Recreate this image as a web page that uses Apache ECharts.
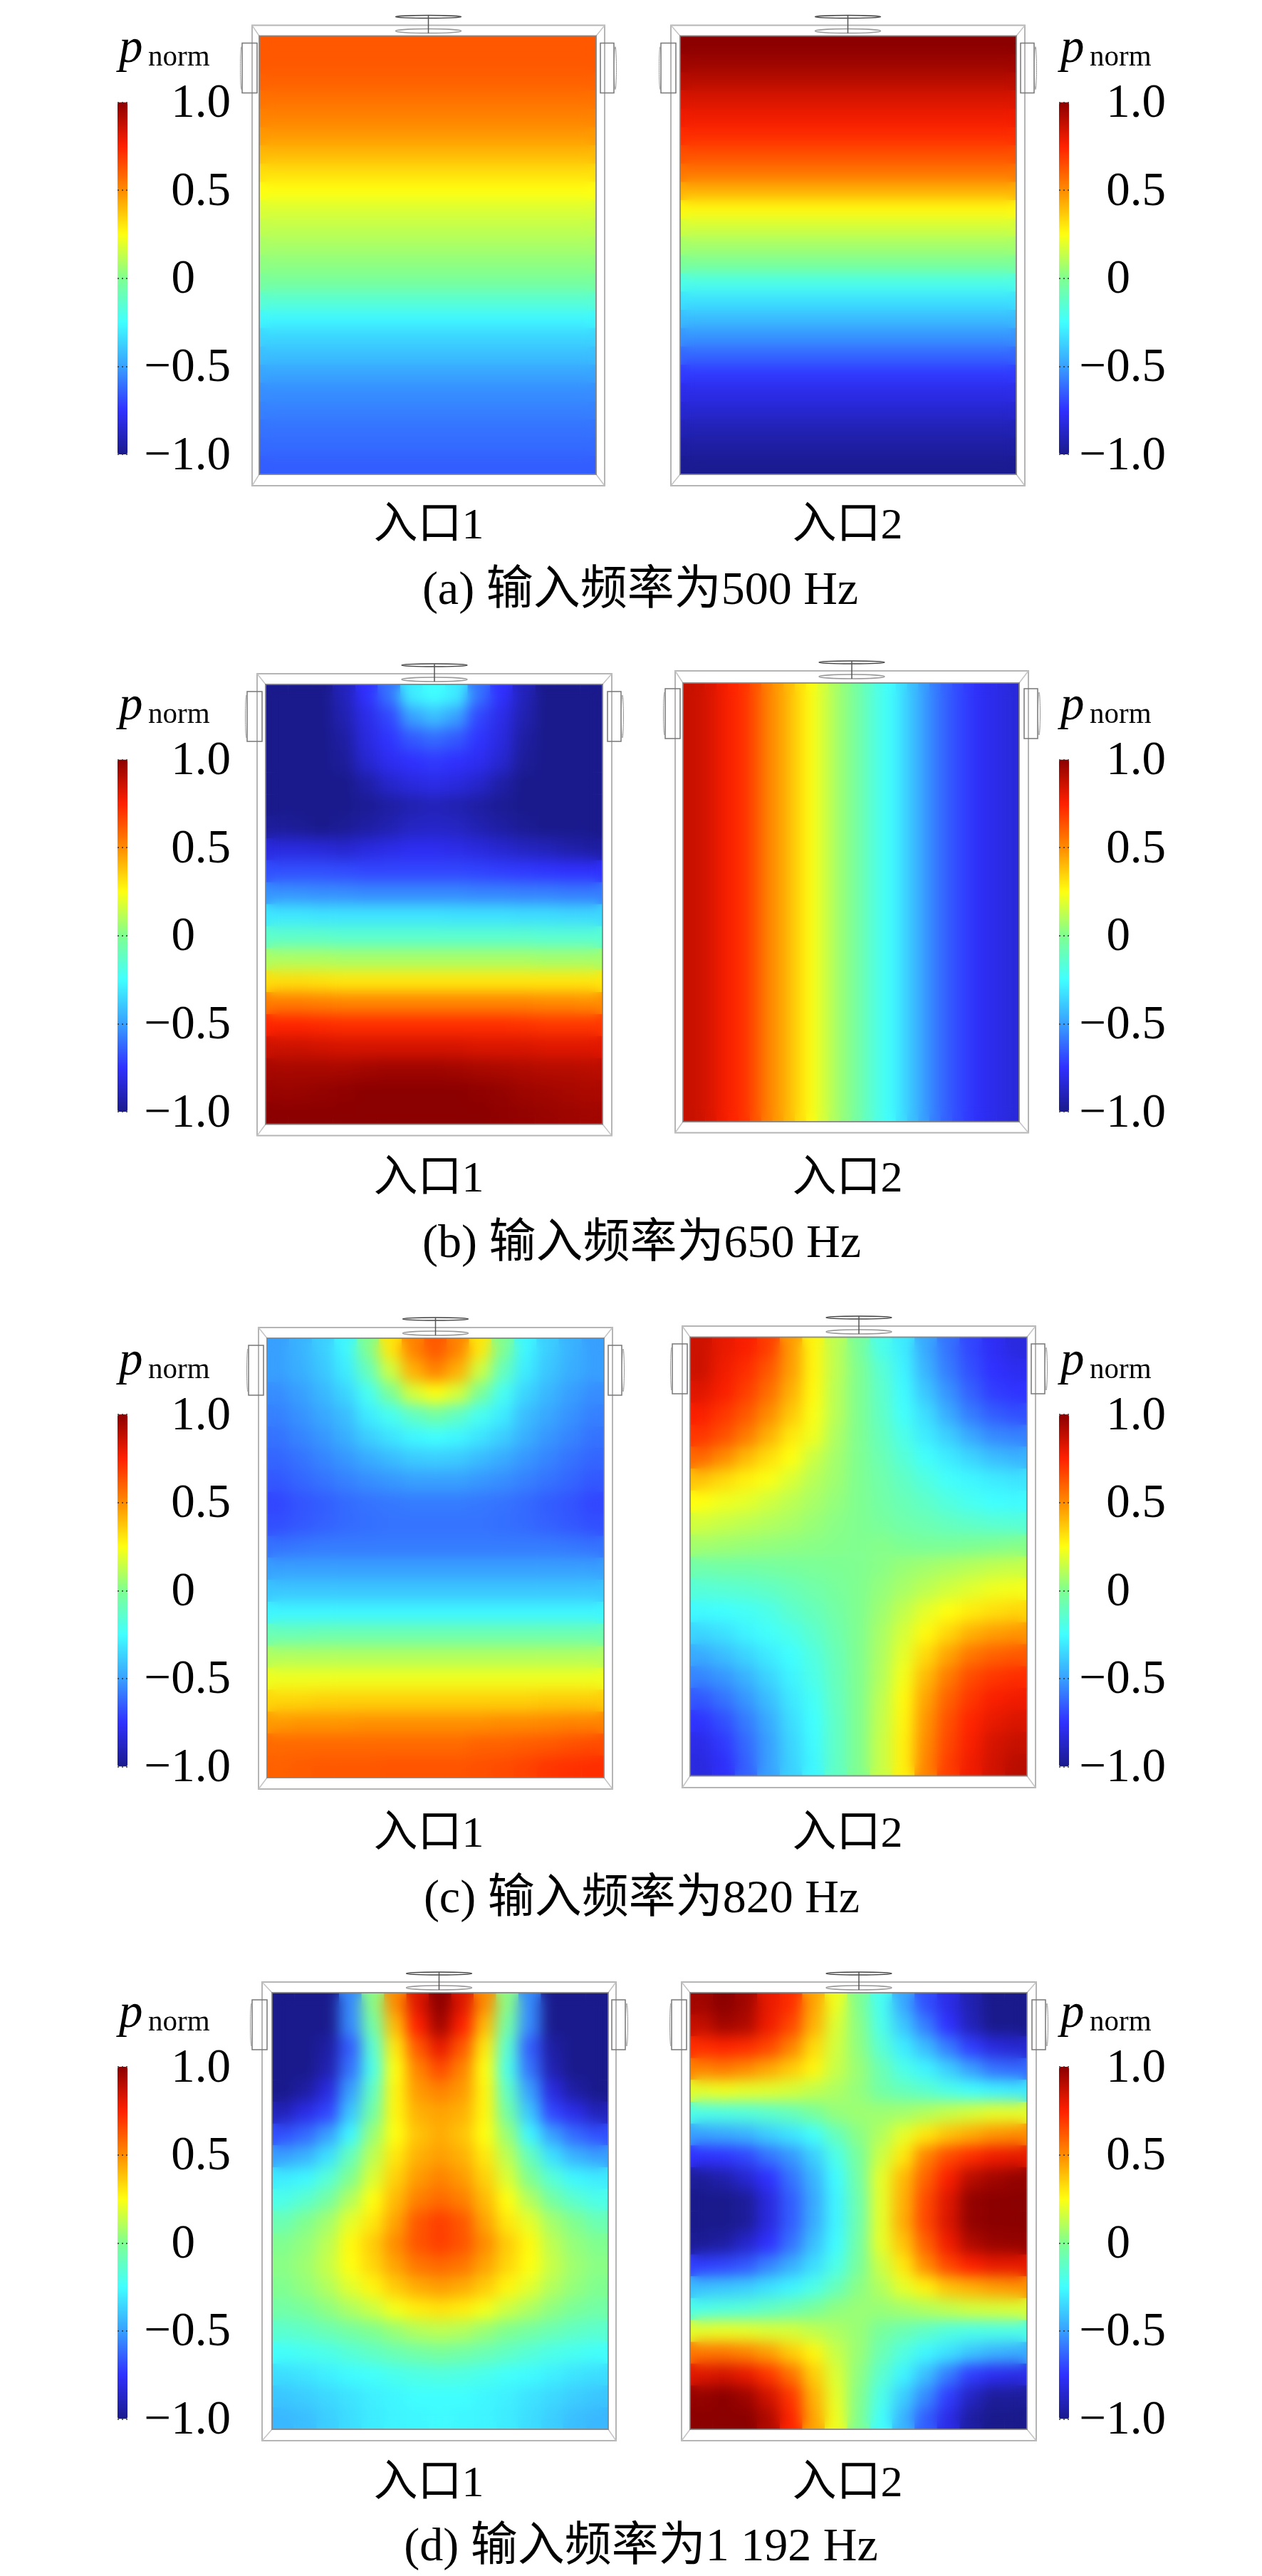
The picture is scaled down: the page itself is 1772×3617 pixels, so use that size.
<!DOCTYPE html>
<html><head><meta charset="utf-8">
<script src="https://cdn.jsdelivr.net/npm/echarts@6/dist/echarts.min.js"></script>
<style>html,body{margin:0;padding:0;background:#fff;overflow:hidden}#c{width:1772px;height:3617px}</style>
</head><body><div id="c"></div>
<script>
// ---- values (rows top to bottom, columns left to right) ----
const captions = ['(a) 输入频率为500 Hz','(b) 输入频率为650 Hz','(c) 输入频率为820 Hz','(d) 输入频率为1 192 Hz'];
const inletNames = ['入口1','入口2'];
const colorTicks = [-1,-0.5,0,0.5,1];
const tickLabels = ['−1.0','−0.5','0','0.5','1.0'];
const jetColors = ['#1a1a8c','#3030ff','#38a0ff','#40ffff','#80ff90','#ffff10','#ff8c00','#ff2000','#8b0000'];

const a1Rows = [.62,.62,.60,.56,.52,.47,.40,.32,.25,.18,.13,.08,.03,-.03,-.15,-.27,-.36,-.42,-.49,-.54,-.57,-.60,-.62,-.65];
const a2Rows = [1,.96,.90,.83,.78,.72,.64,.55,.42,.26,.16,.07,-.02,-.2,-.33,-.43,-.53,-.63,-.73,-.8,-.85,-.91,-.95,-.99];
const b2Cols = [.87,.86,.83,.78,.74,.71,.63,.53,.47,.4,.32,.25,.17,.09,.03,-.04,-.12,-.2,-.25,-.33,-.42,-.5,-.58,-.64,-.69,-.73,-.77,-.79,-.81,-.83];
const b1Grid = [
[-1,-1,-1,-.9,-.75,-.6,-.3,-.25,-.3,-.6,-.75,-.9,-1,-1,-1],
[-1,-1,-1,-.92,-.8,-.7,-.5,-.42,-.5,-.7,-.8,-.92,-1,-1,-1],
[-1,-1,-1,-.95,-.82,-.74,-.66,-.62,-.66,-.74,-.82,-.95,-1,-1,-1],
[-1,-1,-1,-.97,-.85,-.78,-.75,-.73,-.75,-.78,-.85,-.97,-1,-1,-1],
[-1,-1,-1,-1,-.94,-.86,-.82,-.8,-.82,-.86,-.94,-1,-1,-1,-1],
[-1,-1,-1,-1,-.98,-.95,-.92,-.9,-.92,-.95,-.98,-1,-1,-1,-1],
[-.97,-.98,-1,-.98,-.95,-.92,-.88,-.87,-.88,-.92,-.95,-.98,-1,-1,-1],
[-.82,-.82,-.83,-.85,-.82,-.8,-.78,-.78,-.8,-.82,-.85,-.88,-.9,-.93,-.95],
[-.68,-.68,-.68,-.69,-.7,-.7,-.7,-.7,-.7,-.71,-.72,-.73,-.74,-.75,-.75],
[-.53,-.53,-.54,-.54,-.55,-.55,-.55,-.55,-.55,-.56,-.56,-.57,-.57,-.58,-.58],
[-.31,-.31,-.32,-.32,-.32,-.32,-.32,-.32,-.33,-.33,-.33,-.34,-.34,-.35,-.35],
[-.13,-.13,-.13,-.14,-.14,-.14,-.14,-.14,-.14,-.14,-.14,-.14,-.15,-.15,-.15],
[.09,.09,.09,.08,.08,.08,.08,.08,.08,.08,.08,.08,.07,.07,.07],
[.32,.32,.31,.3,.3,.3,.3,.3,.3,.3,.3,.3,.3,.3,.3],
[.54,.54,.53,.52,.52,.52,.52,.52,.52,.52,.52,.52,.51,.51,.5],
[.74,.74,.73,.72,.72,.72,.72,.72,.72,.72,.72,.71,.7,.7,.7],
[.86,.86,.85,.84,.84,.84,.84,.84,.84,.83,.83,.83,.82,.82,.82],
[.94,.94,.94,.94,.95,.96,.96,.96,.95,.94,.93,.92,.91,.91,.9],
[.97,.97,.98,.99,1,1,1,1,1,.99,.98,.96,.95,.94,.93],
[1,1,1,1,1,1,1,1,1,1,.99,.98,.97,.96,.95]];
const c1Grid = [
[-.5,-.45,-.38,-.27,0,.3,.52,.62,.52,.3,0,-.27,-.38,-.45,-.5],
[-.5,-.46,-.4,-.3,-.1,.15,.42,.52,.42,.15,-.1,-.3,-.4,-.46,-.5],
[-.54,-.5,-.44,-.36,-.22,-.02,.17,.25,.17,-.02,-.22,-.36,-.44,-.5,-.54],
[-.57,-.53,-.48,-.42,-.3,-.22,-.12,-.05,-.12,-.22,-.3,-.42,-.48,-.53,-.57],
[-.6,-.56,-.52,-.46,-.38,-.32,-.27,-.25,-.27,-.32,-.38,-.46,-.52,-.56,-.6],
[-.63,-.6,-.56,-.52,-.47,-.43,-.39,-.38,-.39,-.43,-.47,-.52,-.56,-.6,-.63],
[-.66,-.63,-.6,-.57,-.54,-.52,-.5,-.5,-.5,-.52,-.54,-.57,-.6,-.63,-.66],
[-.7,-.67,-.65,-.62,-.6,-.59,-.58,-.58,-.58,-.59,-.6,-.62,-.65,-.67,-.7],
[-.68,-.66,-.64,-.62,-.61,-.6,-.6,-.6,-.6,-.6,-.61,-.62,-.64,-.66,-.68],
[-.6,-.59,-.58,-.58,-.58,-.58,-.58,-.58,-.58,-.58,-.58,-.58,-.58,-.59,-.6],
[-.5,-.5,-.5,-.5,-.5,-.5,-.5,-.5,-.5,-.5,-.5,-.5,-.5,-.5,-.5],
[-.4,-.4,-.4,-.4,-.4,-.4,-.4,-.4,-.4,-.4,-.4,-.4,-.4,-.4,-.4],
[-.27,-.27,-.27,-.27,-.27,-.27,-.27,-.27,-.27,-.27,-.27,-.27,-.27,-.27,-.27],
[-.08,-.08,-.07,-.07,-.07,-.07,-.07,-.07,-.07,-.07,-.07,-.07,-.07,-.07,-.07],
[.1,.1,.1,.1,.1,.1,.1,.1,.1,.1,.1,.1,.1,.1,.1],
[.22,.22,.22,.22,.22,.22,.22,.22,.22,.22,.22,.22,.22,.22,.22],
[.34,.34,.35,.35,.35,.35,.35,.35,.35,.35,.35,.35,.36,.36,.36],
[.47,.48,.48,.48,.49,.49,.49,.49,.49,.49,.5,.5,.51,.52,.52],
[.58,.58,.58,.58,.58,.58,.58,.58,.58,.6,.6,.61,.62,.64,.65],
[.6,.61,.62,.62,.62,.63,.63,.63,.63,.64,.65,.67,.7,.71,.72]];
const c2Grid = [
[.86,.8,.76,.68,.47,.27,.12,-.02,-.2,-.3,-.48,-.6,-.7,-.77,-.82],
[.86,.78,.72,.62,.46,.27,.12,0,-.15,-.28,-.45,-.58,-.68,-.75,-.78],
[.82,.76,.68,.57,.42,.26,.11,0,-.13,-.26,-.4,-.53,-.64,-.72,-.74],
[.76,.7,.62,.5,.37,.24,.11,0,-.12,-.24,-.34,-.47,-.58,-.65,-.68],
[.7,.64,.54,.42,.3,.22,.09,0,-.1,-.2,-.3,-.38,-.48,-.55,-.57],
[.58,.5,.4,.32,.25,.15,.07,0,-.08,-.16,-.24,-.3,-.36,-.42,-.45],
[.38,.33,.28,.24,.18,.11,.06,0,-.06,-.12,-.18,-.24,-.27,-.3,-.32],
[.25,.22,.2,.16,.12,.08,.04,0,-.05,-.09,-.13,-.18,-.22,-.25,-.26],
[.16,.14,.12,.1,.08,.05,.02,0,-.03,-.06,-.08,-.11,-.13,-.15,-.16],
[.07,.06,.05,.04,.03,.02,.01,0,.01,-.01,-.02,-.02,-.01,0,.01],
[-.06,-.05,-.05,-.04,-.03,-.02,-.01,0,.02,.05,.07,.09,.11,.13,.14],
[-.16,-.15,-.14,-.12,-.09,-.06,-.03,0,.04,.08,.12,.16,.19,.22,.23],
[-.26,-.25,-.23,-.2,-.14,-.1,-.05,0,.06,.13,.2,.25,.29,.32,.34],
[-.36,-.33,-.28,-.24,-.2,-.14,-.07,0,.08,.17,.26,.34,.42,.46,.48],
[-.47,-.42,-.36,-.3,-.25,-.18,-.09,0,.09,.2,.33,.45,.55,.6,.62],
[-.56,-.52,-.45,-.36,-.28,-.2,-.1,0,.1,.23,.4,.54,.65,.7,.72],
[-.66,-.6,-.52,-.42,-.31,-.23,-.11,0,.12,.26,.45,.6,.7,.76,.78],
[-.74,-.68,-.58,-.47,-.34,-.25,-.12,0,.13,.27,.48,.64,.74,.8,.83],
[-.8,-.73,-.62,-.5,-.36,-.26,-.12,0,.14,.28,.5,.66,.76,.84,.87],
[-.82,-.76,-.64,-.5,-.37,-.27,-.12,0,.14,.28,.52,.68,.78,.85,.9]];
const d1Grid = [
[-1,-1,-1,-.55,.02,.5,.82,1,.82,.5,.02,-.55,-1,-1,-1],
[-1,-1,-1,-.55,-.05,.4,.75,.95,.75,.4,-.05,-.55,-1,-1,-1],
[-1,-1,-.95,-.65,-.15,.3,.62,.8,.62,.3,-.15,-.65,-.95,-1,-1],
[-1,-1,-.92,-.6,-.2,.25,.52,.65,.52,.25,-.2,-.6,-.92,-1,-1],
[-1,-.95,-.82,-.5,-.12,.27,.47,.52,.47,.27,-.12,-.5,-.82,-.95,-1],
[-.9,-.8,-.7,-.4,-.05,.27,.42,.45,.42,.27,-.05,-.4,-.7,-.8,-.9],
[-.68,-.62,-.5,-.27,.05,.25,.38,.43,.38,.25,.05,-.27,-.5,-.62,-.68],
[-.5,-.45,-.33,-.1,.12,.3,.42,.46,.42,.3,.12,-.1,-.33,-.45,-.5],
[-.3,-.27,-.16,0,.18,.35,.47,.52,.47,.35,.18,0,-.16,-.27,-.3],
[-.2,-.14,-.04,.1,.25,.4,.53,.58,.53,.4,.25,.1,-.04,-.14,-.2],
[-.08,0,.07,.2,.3,.45,.62,.68,.62,.45,.3,.2,.07,0,-.08],
[0,.04,.12,.26,.36,.5,.63,.68,.63,.5,.36,.26,.12,.04,0],
[.02,.06,.14,.25,.34,.45,.55,.58,.55,.45,.34,.25,.14,.06,.02],
[0,.04,.1,.19,.27,.36,.43,.46,.43,.36,.27,.19,.1,.04,0],
[-.05,-.02,.03,.09,.15,.23,.29,.31,.29,.23,.15,.09,.03,-.02,-.05],
[-.14,-.12,-.08,-.04,0,.05,.1,.12,.1,.05,0,-.04,-.08,-.12,-.14],
[-.24,-.22,-.2,-.16,-.12,-.08,-.05,-.03,-.05,-.08,-.12,-.16,-.2,-.22,-.24],
[-.34,-.32,-.29,-.26,-.24,-.21,-.19,-.18,-.19,-.21,-.24,-.26,-.29,-.32,-.34],
[-.4,-.38,-.35,-.32,-.29,-.27,-.25,-.25,-.25,-.27,-.29,-.32,-.35,-.38,-.4],
[-.44,-.42,-.38,-.34,-.3,-.28,-.27,-.26,-.27,-.28,-.3,-.34,-.38,-.42,-.44]];
const d2Grid = [
[.95,1,.95,.8,.72,.45,.22,0,-.22,-.48,-.68,-.8,-.92,-1,-1],
[.88,.95,.92,.78,.66,.42,.18,.02,-.2,-.4,-.58,-.75,-.9,-1,-1],
[.72,.74,.72,.66,.52,.33,.16,.03,-.15,-.3,-.43,-.58,-.72,-.82,-.85],
[.52,.54,.5,.44,.36,.27,.14,.05,-.08,-.2,-.28,-.38,-.5,-.6,-.62],
[.2,.22,.2,.19,.17,.13,.09,.04,-.05,-.1,-.14,-.2,-.24,-.28,-.3],
[-.2,-.19,-.17,-.14,-.1,-.03,.04,.06,.06,.07,.1,.14,.17,.2,.2],
[-.5,-.48,-.45,-.38,-.32,-.24,-.1,.02,.1,.2,.3,.38,.43,.48,.5],
[-.75,-.74,-.7,-.6,-.52,-.38,-.2,-.03,.15,.3,.52,.65,.72,.78,.8],
[-.97,-.93,-.85,-.75,-.6,-.45,-.26,-.05,.2,.4,.6,.76,.9,.95,.98],
[-1,-1,-.97,-.82,-.65,-.48,-.28,-.07,.2,.42,.65,.82,.98,1,1],
[-1,-1,-.97,-.82,-.65,-.47,-.28,-.07,.2,.43,.66,.83,.98,1,1],
[-.98,-.95,-.86,-.75,-.6,-.42,-.26,-.05,.2,.38,.6,.78,.92,.97,.98],
[-.72,-.7,-.66,-.56,-.46,-.34,-.2,-.03,.15,.3,.5,.66,.75,.8,.8],
[-.42,-.4,-.38,-.33,-.28,-.2,-.1,.02,.1,.2,.28,.38,.42,.46,.48],
[-.2,-.18,-.16,-.12,-.08,-.03,.03,.05,.05,.07,.1,.13,.16,.17,.18],
[.2,.21,.2,.18,.17,.13,.09,.05,-.03,-.08,-.13,-.18,-.2,-.2,-.2],
[.55,.55,.52,.46,.36,.27,.14,.05,-.08,-.18,-.27,-.33,-.4,-.45,-.47],
[.82,.84,.8,.7,.56,.36,.18,.03,-.14,-.28,-.42,-.58,-.72,-.78,-.8],
[.98,1,.96,.85,.7,.42,.2,.01,-.2,-.38,-.55,-.72,-.88,-.97,-.97],
[1,1,1,.92,.74,.45,.22,0,-.24,-.45,-.65,-.8,-.95,-1,-1]];

// ---- layout ----
const F = '"Liberation Serif","Noto Sans CJK SC",serif';
const panels = [
 {g:a1Rows.map(v=>[v]), heat:[364,837,50.5,666], frame:[354,849,35.6,682], side:0, row:0},
 {g:a2Rows.map(v=>[v]), heat:[955,1427,50.5,666], frame:[942,1439,35.6,682], side:1, row:0},
 {g:b1Grid, heat:[373,846,961,1578.5], frame:[361,859,946,1594.6], side:0, row:1},
 {g:[b2Cols], heat:[959,1431,959,1575], frame:[948,1444,942,1590.5], side:1, row:1},
 {g:c1Grid, heat:[375,848,1879,2496], frame:[363,860,1864,2512], side:0, row:2},
 {g:c2Grid, heat:[969,1442,1877.5,2493.5], frame:[958,1454,1862,2510], side:1, row:2},
 {g:d1Grid, heat:[382,854,2798,3411], frame:[368,865,2783,3427], side:0, row:3},
 {g:d2Grid, heat:[969,1442,2798,3411], frame:[957,1455,2783,3427], side:1, row:3}
];
const rowsLayout = [
 {off:0, label:745, cap:834, capX:899},
 {off:923, label:1662, cap:1751, capX:901},
 {off:1842.5, label:2582, cap:2671, capX:901},
 {off:2758.5, label:3494, cap:3581, capX:900}
];
const barX = [165,1487], barW = 14, barTop = 143.5, barH = 494.5;
const labelMargin = [145,136];
const labelCX = [602,1190];
const pX = [167,1489], normX = [208,1530];

const grid=[],xAxis=[],yAxis=[],series=[],under=[],visualMap=[],title=[],graphic=[];
const line=(x1,y1,x2,y2,stroke,lw,z)=>({type:'line',silent:true,zlevel:z||0,shape:{x1,y1,x2,y2},style:{stroke,lineWidth:lw}});

panels.forEach((p,i)=>{
  const [l,r,t,b]=p.heat;
  grid.push({left:l,top:t,width:r-l,height:b-t,containLabel:false,show:false});
  xAxis.push({type:'category',gridIndex:i,show:false,data:p.g[0].map((_,k)=>k)});
  yAxis.push({type:'category',gridIndex:i,show:false,inverse:true,data:p.g.map((_,k)=>k)});
  const data=[]; p.g.forEach((row,y)=>row.forEach((v,x)=>data.push([x,y,v])));
  const base={type:'heatmap',xAxisIndex:i,yAxisIndex:i,data,silent:true,progressive:0,animation:false,emphasis:{disabled:true},itemStyle:{borderWidth:0}};
  series.push(Object.assign({name:captions[p.row]+' '+inletNames[p.side],zlevel:1},base));
  under.push(Object.assign({name:'base'+i,zlevel:0},base));
  visualMap.push({type:'continuous',min:-1,max:1,seriesIndex:[i,i+8],left:barX[p.side],top:barTop+rowsLayout[p.row].off,
    itemWidth:barW,itemHeight:barH,padding:0,text:['',''],calculable:false,hoverLink:false,realtime:false,
    inRange:{color:jetColors},textStyle:{fontSize:0},showLabel:false});
});
panels.forEach((p,i)=>{
  const k=i+panels.length, top=barTop+rowsLayout[p.row].off;
  grid.push({left:barX[p.side],top:top,width:barW,height:barH,show:false});
  xAxis.push({type:'category',gridIndex:k,show:false,data:['']});
  yAxis.push({type:'value',gridIndex:k,position:'right',min:-1,max:1,interval:.5,z:10,
    axisLine:{show:false},splitLine:{show:false},
    axisTick:{show:true,inside:true,length:barW,lineStyle:{color:'#333',type:[2,4],width:1.5}},
    axisLabel:{show:true,margin:labelMargin[p.side],align:'right',color:'#000',fontFamily:F,fontSize:67,padding:[6,0,0,0],
      formatter:v=>{const s=tickLabels[colorTicks.indexOf(v)];return s==='0'?'{z|0}':s;},
      rich:{z:{padding:[0,50,0,0],fontFamily:F,fontSize:67,color:'#000'}}}});
});

panels.forEach(p=>{
  const [l,r,t,b]=p.heat,[fl,fr,ft,fb]=p.frame,cx=(fl+fr)/2;
  // inlet label
  title.push({text:inletNames[p.side],left:labelCX[p.side],top:rowsLayout[p.row].label-36,textAlign:'center',padding:0,
    textStyle:{fontFamily:F,fontSize:62,fontWeight:'normal',color:'#000'}});
  // enclosure frame
  graphic.push({type:'rect',silent:true,shape:{x:fl,y:ft,width:fr-fl,height:fb-ft},style:{fill:'none',stroke:'#b5b5b5',lineWidth:2}});
  graphic.push(line(fl,ft,l,t,'#c4c4c4',1.5),line(fr,ft,r,t,'#c4c4c4',1.5),line(fl,fb,l,b,'#c4c4c4',1.5),line(fr,fb,r,b,'#c4c4c4',1.5));
  graphic.push({type:'rect',silent:true,zlevel:2,shape:{x:l,y:t,width:r-l,height:b-t},style:{fill:'none',stroke:'rgba(130,130,130,0.85)',lineWidth:2}});
  // top port
  graphic.push({type:'ellipse',silent:true,shape:{cx,cy:ft-12,rx:46,ry:2},style:{fill:'none',stroke:'#444',lineWidth:1.5}});
  graphic.push({type:'ellipse',silent:true,shape:{cx,cy:ft+8,rx:46,ry:3},style:{fill:'none',stroke:'#999',lineWidth:1.5}});
  graphic.push(line(cx,ft-14,cx,ft+11,'#555',1.5));
  // side ports
  [[fl-14,fl+7,fl-15],[fr-6,fr+13,fr+15]].forEach(([a,c,e])=>{
    graphic.push({type:'rect',silent:true,shape:{x:a,y:ft+25,width:c-a,height:70},style:{fill:'none',stroke:'#777',lineWidth:1.5}});
    graphic.push({type:'ellipse',silent:true,shape:{cx:e,cy:ft+60,rx:1.5,ry:30},style:{fill:'none',stroke:'#999',lineWidth:1}});
  });
});
rowsLayout.forEach((r,i)=>{
  title.push({text:captions[i],left:r.capX,top:r.cap-36,textAlign:'center',padding:0,
    textStyle:{fontFamily:F,fontSize:66,fontWeight:'normal',color:'#000'}});
  [0,1].forEach(s=>{
    title.push({text:'p',left:pX[s],top:r.off+36,padding:0,textStyle:{fontFamily:'"Liberation Serif"',fontStyle:'italic',fontWeight:'normal',fontSize:67,color:'#000'}});
    title.push({text:'norm',left:normX[s],top:r.off+61,padding:0,textStyle:{fontFamily:'"Liberation Serif"',fontWeight:'normal',fontSize:41,color:'#000'}});
  });
});

const chart=echarts.init(document.getElementById('c'),null,{renderer:'canvas',width:1772,height:3617});
chart.setOption({animation:false,backgroundColor:'#fff',title,grid,xAxis,yAxis,visualMap,series:series.concat(under),graphic:{elements:graphic},tooltip:{show:false}});

// Softens the read-off cells on the top heatmap layer only, kept inside the panels.
function soften(){
  const cv=chart.getDom().querySelector('canvas[data-zr-dom-id="zr_1"]');
  if(!cv) return;
  cv.style.filter='blur(10px)';
  cv.style.clipPath="path('"+panels.map(p=>{const [l,r,t,b]=p.heat;return `M${l} ${t}H${r}V${b}H${l}Z`;}).join('')+"')";
}
soften();
chart.on('finished',soften);
requestAnimationFrame(soften);
</script></body></html>
